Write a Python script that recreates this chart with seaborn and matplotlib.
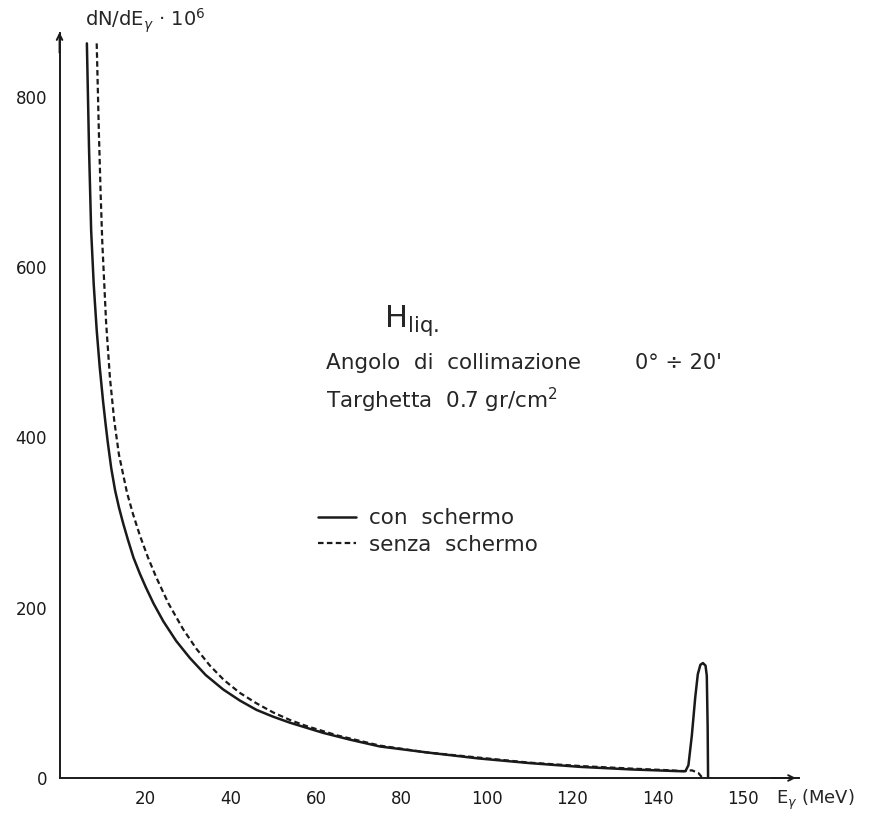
import pandas as pd
import seaborn as sns
import matplotlib.pyplot as plt

# values (E in MeV, dN/dE x 10^6)
e_con = [6.4, 6.9, 7.4, 8.0, 8.7, 9.4, 10.2, 10.8, 11.3, 12.1, 13.0, 13.9, 14.9,
         16.0, 17.3, 18.8, 20.2, 22.0, 24.3, 27.3, 30.5, 34.2, 38.3, 42.2, 46.1,
         50.0, 53.9, 57.8, 61.7, 68.0, 75.0, 86.0, 98.0, 110.0, 122.0, 134.0,
         145.0, 146.5, 147.2, 148.0, 148.8, 149.4, 150.0, 150.6, 151.2, 151.5,
         151.7, 151.8]
v_con = [863, 740, 643, 580, 526, 483, 442, 415, 394, 364, 338, 318, 299,
         280, 259, 240, 224, 205, 184, 161, 141, 121, 104, 91, 80,
         72, 65, 59, 53, 45, 37, 30, 23, 17.5, 13, 10,
         8, 8, 15, 50, 95, 122, 133, 135, 132, 120,
         60, 0]

e_senza = [8.7, 9.2, 9.6, 10.0, 10.9, 11.8, 12.8, 13.9, 15.8, 17.2, 18.8, 20.7,
           22.7, 25.5, 28.9, 32.0, 35.2, 38.5, 42.2, 46.0, 50.0, 54.0, 57.8,
           65.0, 75.0, 86.0, 98.0, 110.0, 122.0, 134.0, 143.0, 146.0, 148.0,
           149.5, 150.5]
v_senza = [863, 760, 690, 630, 535, 470, 420, 380, 335, 310, 285, 259,
           235, 205, 175, 152, 132, 115, 100, 88, 77, 68, 61,
           50, 38, 30, 24, 18, 14, 11, 9, 8, 9,
           6, 0]

x_ticks = [20, 40, 60, 80, 100, 120, 140, 160]
x_labels = ["20", "40", "60", "80", "100", "120", "140", "150"]
y_ticks = [0, 200, 400, 600, 800]

con_df = pd.DataFrame({"E": e_con, "N": v_con})
senza_df = pd.DataFrame({"E": e_senza, "N": v_senza})

sns.set_style("white")
plt.rcParams["font.family"] = ["DejaVu Sans"]

fig = plt.figure(figsize=(8.82, 8.23), dpi=100)
ax = fig.add_axes([0.0675, 0.0547, 0.838, 0.905])

sns.lineplot(data=con_df, x="E", y="N", ax=ax, color="#1a1a1a", lw=1.8,
             estimator=None, sort=False, label="con  schermo")
sns.lineplot(data=senza_df, x="E", y="N", ax=ax, color="#1a1a1a", lw=1.6,
             estimator=None, sort=False, linestyle=(0, (2.5, 1.5)),
             label="senza  schermo")

ax.set_xlim(0, 173)
ax.set_ylim(0, 875)
ax.set_xticks(x_ticks)
ax.set_xticklabels(x_labels)
ax.set_yticks(y_ticks)
ax.set_xlabel("")
ax.set_ylabel("")
ax.tick_params(axis="x", direction="inout", length=6, width=1.2, labelsize=12, pad=6)
ax.tick_params(axis="y", direction="out", length=5, width=1.2, labelsize=12, pad=4)
ax.tick_params(colors="#1a1a1a")
sns.despine(ax=ax)
for s in ["left", "bottom"]:
    ax.spines[s].set_linewidth(1.4)
    ax.spines[s].set_color("#1a1a1a")

# open arrow heads at the axis ends
ax.annotate("", xy=(1.0, 0), xytext=(0.96, 0), xycoords="axes fraction",
            arrowprops=dict(arrowstyle="->", lw=1.4, color="#1a1a1a"))
ax.annotate("", xy=(0, 1.005), xytext=(0, 0.97), xycoords="axes fraction",
            arrowprops=dict(arrowstyle="->", lw=1.4, color="#1a1a1a"))

ax.text(6.0, 890, "dN/dE$_γ$ · 10$^6$", fontsize=14, va="center", clip_on=False)
ax.text(177, -26, "E$_γ$ (MeV)", fontsize=13, ha="center", va="center", clip_on=False)

ax.text(76, 530, "H$_{\\rm liq.}$", fontsize=22, va="baseline")
ax.text(62.4, 487, "Angolo  di  collimazione", fontsize=15.5, va="center")
ax.text(134.6, 487, "0° ÷ 20'", fontsize=15, va="center")
ax.text(62.4, 444, "Targhetta  0.7 gr/cm$^2$", fontsize=15.5, va="center")

ax.legend(loc="upper left", bbox_to_anchor=(60.5, 317), bbox_transform=ax.transData,
          frameon=False, fontsize=15.5, handlelength=1.75, handletextpad=0.6,
          labelspacing=0.3, borderpad=0, borderaxespad=0)

plt.savefig("out.png", dpi=100)
